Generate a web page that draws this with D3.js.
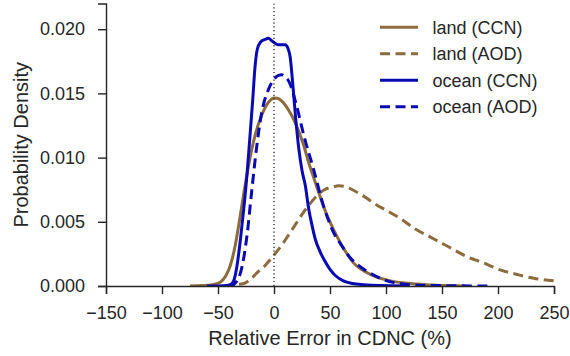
<!DOCTYPE html>
<html>
<head>
<meta charset="utf-8">
<script src="https://cdn.jsdelivr.net/npm/d3@7"></script>
<style>
  body { margin: 0; background: #fff; }
  svg { display: block; font-family: "Liberation Sans", Arial, sans-serif; }
</style>
</head>
<body>
<div id="chart"></div>
<script>
// tick values
const xTicks = [-150, -100, -50, 0, 50, 100, 150, 200, 250];
const yTicks = [0, 0.005, 0.010, 0.015, 0.020];

// land (CCN) - solid brown
const landCcnX = [-75, -65, -55, -48, -43, -39, -35, -31, -27, -22, -17, -11, -5, 0, 3, 7, 13, 19, 26, 31, 36, 41, 46, 51, 56, 61, 66, 71, 78, 86, 95, 104, 115, 127, 145, 170];
const landCcnY = [0, 0.00003, 0.0001, 0.0003, 0.0008, 0.0016, 0.0030, 0.0050, 0.0072, 0.0097, 0.0117, 0.0133, 0.0143, 0.01465, 0.01462, 0.0144, 0.0137, 0.0127, 0.0111, 0.0096, 0.0083, 0.0070, 0.0058, 0.0048, 0.0039, 0.0031, 0.0024, 0.0018, 0.0013, 0.0009, 0.0006, 0.0004, 0.00025, 0.00015, 0.00005, 0];

// land (AOD) - dashed brown
const landAodX = [-45, -36, -27, -20, -15.5, -8, -1, 7, 14, 20, 26, 32, 38, 45, 52, 58, 65, 72, 80, 90, 100, 112, 125, 142, 157, 172, 187, 202, 217, 232, 250];
const landAodY = [0, 0.0001, 0.0002, 0.0006, 0.0010, 0.0016, 0.0023, 0.0032, 0.0041, 0.0049, 0.0057, 0.0064, 0.0070, 0.0075, 0.0077, 0.0078, 0.0077, 0.0074, 0.0070, 0.0064, 0.0059, 0.0053, 0.0045, 0.0037, 0.0030, 0.0023, 0.0018, 0.00125, 0.0009, 0.0006, 0.0004];

// ocean (CCN) - solid blue
const oceanCcnX = [-60, -45, -39, -36, -33, -30, -27, -24, -21, -19, -17, -15, -12, -8, -5, -2, 1, 4, 7, 10, 12.5, 14.5, 16.5, 19, 22, 25, 28, 31, 34, 37, 41, 45, 50, 55, 62, 70, 80, 95, 120];
const oceanCcnY = [0, 0.00002, 0.0001, 0.0004, 0.0016, 0.0036, 0.0060, 0.0088, 0.0122, 0.0145, 0.0170, 0.0184, 0.0190, 0.0192, 0.0193, 0.0191, 0.0189, 0.01878, 0.01878, 0.01878, 0.0185, 0.0178, 0.0160, 0.0134, 0.0108, 0.0090, 0.0078, 0.0060, 0.0047, 0.0036, 0.0027, 0.0020, 0.0013, 0.0008, 0.0004, 0.0002, 0.0001, 0.00003, 0];

// ocean (AOD) - dashed blue
const oceanAodX = [-40, -36, -33, -30, -27, -24, -20, -15.5, -11, -5, 0, 4, 7, 10, 14, 20, 27, 35, 44, 53, 60, 68, 77, 86, 95, 105, 115, 130, 160, 195];
const oceanAodY = [0, 0.0001, 0.0004, 0.0010, 0.0022, 0.0040, 0.0073, 0.0108, 0.0135, 0.0153, 0.0161, 0.0164, 0.01645, 0.0163, 0.0158, 0.0141, 0.0116, 0.0092, 0.0063, 0.0042, 0.0032, 0.0022, 0.0015, 0.0010, 0.0006, 0.0003, 0.00015, 0.00006, 0.00002, 0];

const seriesNames = ["land (CCN)", "land (AOD)", "ocean (CCN)", "ocean (AOD)"];
const seriesX = [landCcnX, landAodX, oceanCcnX, oceanAodX];
const seriesY = [landCcnY, landAodY, oceanCcnY, oceanAodY];

const brown = "#8c6c3e";
const blue = "#0a0ab4";
const styles = [
  { color: brown, dash: null },
  { color: brown, dash: "10,5.5" },
  { color: blue, dash: null },
  { color: blue, dash: "10,5.5" }
];

const width = 570, height = 356;
const margin = { left: 106, right: 16, top: 3.5, bottom: 70 };
const textColor = "#262626";

const svg = d3.select("#chart").append("svg")
  .attr("width", width)
  .attr("height", height);

const x = d3.scaleLinear().domain([-150, 250]).range([margin.left, width - margin.right]);
const y = d3.scaleLinear().domain([0, 0.0220]).range([height - margin.bottom, margin.top]);

// clip the curves to the plot area
svg.append("clipPath").attr("id", "plotClip")
  .append("rect")
  .attr("x", x(-150)).attr("y", y(0.0220))
  .attr("width", x(250) - x(-150)).attr("height", y(0) - y(0.0220));

const line = d3.line()
  .x(d => x(d[0]))
  .y(d => y(d[1]))
  .curve(d3.curveMonotoneX);

const plot = svg.append("g").attr("clip-path", "url(#plotClip)");

seriesNames.forEach((name, i) => {
  const pts = seriesX[i].map((v, j) => [v, seriesY[i][j]]);
  plot.append("path")
    .datum(pts)
    .attr("d", line)
    .attr("fill", "none")
    .attr("stroke", styles[i].color)
    .attr("stroke-width", 3)
    .attr("stroke-dasharray", styles[i].dash);
});

// dotted zero line
plot.append("line")
  .attr("x1", x(0)).attr("x2", x(0))
  .attr("y1", y(0.0220)).attr("y2", y(0))
  .attr("stroke", "#111")
  .attr("stroke-width", 1.2)
  .attr("stroke-dasharray", "1.2,2.6");

// axes
const xAxis = svg.append("g")
  .attr("transform", `translate(0,${y(0)})`)
  .call(d3.axisBottom(x).tickValues(xTicks).tickSize(8).tickPadding(12)
    .tickFormat(d => d < 0 ? "\u2212" + Math.abs(d) : d));

const yAxis = svg.append("g")
  .attr("transform", `translate(${x(-150)},0)`)
  .call(d3.axisLeft(y).tickValues(yTicks).tickSize(8).tickPadding(13)
    .tickFormat(d3.format(".3f")));

[xAxis, yAxis].forEach(ax => {
  ax.select(".domain").attr("stroke", textColor).attr("stroke-width", 1.4);
  ax.selectAll(".tick line").attr("stroke", textColor).attr("stroke-width", 1.4);
  ax.selectAll(".tick text")
    .attr("fill", textColor)
    .style("font-size", "18px")
    .style("font-family", "'Liberation Sans', Arial, sans-serif");
});

// axis labels
svg.append("text")
  .attr("x", (x(-150) + x(250)) / 2)
  .attr("y", 345)
  .attr("text-anchor", "middle")
  .attr("fill", textColor)
  .style("font-size", "20px")
  .text("Relative Error in CDNC (%)");

svg.append("text")
  .attr("transform", `translate(28,${(y(0) + y(0.0220)) / 2}) rotate(-90)`)
  .attr("text-anchor", "middle")
  .attr("fill", textColor)
  .style("font-size", "20px")
  .text("Probability Density");

// legend
const legend = svg.append("g");
seriesNames.forEach((name, i) => {
  const ly = 27.3 + i * 26.5;
  legend.append("line")
    .attr("x1", 380).attr("x2", 418)
    .attr("y1", ly).attr("y2", ly)
    .attr("stroke", styles[i].color)
    .attr("stroke-width", 3)
    .attr("stroke-dasharray", styles[i].dash);
  legend.append("text")
    .attr("x", 432.5)
    .attr("y", ly)
    .attr("dy", "0.35em")
    .attr("fill", textColor)
    .style("font-size", "18px")
    .text(name);
});
</script>
</body>
</html>
